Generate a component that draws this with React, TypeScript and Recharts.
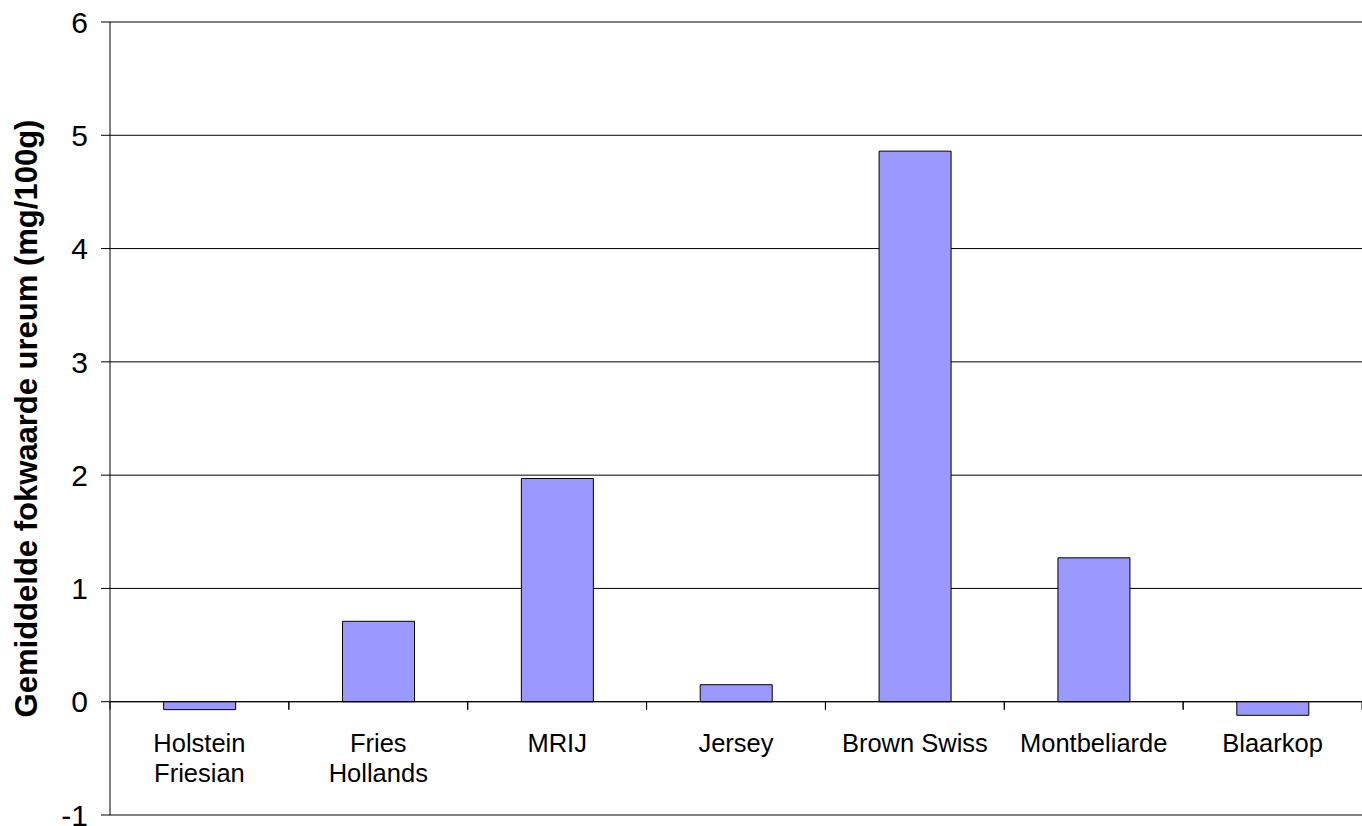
import React from 'react';
import { BarChart, Bar, XAxis, YAxis, CartesianGrid, ReferenceLine } from 'recharts';

const categories = ['Holstein\nFriesian', 'Fries\nHollands', 'MRIJ', 'Jersey', 'Brown Swiss', 'Montbeliarde', 'Blaarkop'];
const values = [-0.07, 0.71, 1.97, 0.15, 4.86, 1.27, -0.12];
const yTicks = [-1, 0, 1, 2, 3, 4, 5, 6];
const Y_MIN = -1;
const Y_MAX = 6;
const TITLE = 'Gemiddelde fokwaarde ureum (mg/100g)';

const data = categories.map((c, i) => ({ name: c, value: values[i] }));

const W = 1362;
const H = 826;
const X_AXIS_H = 11;
const M = { top: 22, right: 0, bottom: 0, left: 0 };
const Y_AXIS_W = 110;
const PLOT_W = W - M.left - M.right - Y_AXIS_W;
const PLOT_H = H - M.top - M.bottom - X_AXIS_H;
const ZERO_Y = M.top + (PLOT_H * (Y_MAX - 0)) / (Y_MAX - Y_MIN);
const BAND = PLOT_W / categories.length;
const FONT = '"Liberation Sans", Arial, Helvetica, sans-serif';

const renderCategoryTick = (props: any) => {
  const { x, payload } = props;
  const lines = String(payload.value).split('\n');
  const left = x - BAND / 2;
  const right = x + BAND / 2;
  return (
    <g key={`t-${payload.value}`}>
      <line x1={left} x2={left} y1={ZERO_Y} y2={ZERO_Y + 8} stroke="#000" strokeWidth={1} />
      <line x1={right} x2={right} y1={ZERO_Y} y2={ZERO_Y + 8} stroke="#000" strokeWidth={1} />
      {lines.map((l: string, i: number) => (
        <text
          key={i}
          x={x}
          y={ZERO_Y + 50 + i * 30}
          textAnchor="middle"
          fontFamily={FONT}
          fontSize={25.5}
          fill="#000"
        >
          {l}
        </text>
      ))}
    </g>
  );
};

const renderTitle = (props: any) => {
  const vb = props.viewBox || { x: 0, y: M.top, width: Y_AXIS_W, height: PLOT_H };
  const cx = vb.x + 37;
  const cy = vb.y + vb.height / 2;
  return (
    <text
      x={cx}
      y={cy}
      transform={`rotate(-90, ${cx}, ${cy})`}
      textAnchor="middle"
      fontFamily={FONT}
      fontWeight="bold"
      fontSize={31}
      fill="#000"
    >
      {TITLE}
    </text>
  );
};

export default function App() {
  return (
    <div style={{ position: 'absolute', left: 0, top: 0, width: W, height: H, background: '#fff' }}>
      <BarChart width={W} height={H} data={data} margin={M} barCategoryGap="30%">
        <CartesianGrid horizontal vertical={false} stroke="#000" strokeWidth={1} />
        <XAxis
          dataKey="name"
          height={X_AXIS_H}
          axisLine={false}
          tickLine={false}
          interval={0}
          tick={renderCategoryTick}
        />
        <YAxis
          width={Y_AXIS_W}
          domain={[Y_MIN, Y_MAX]}
          ticks={yTicks}
          interval={0}
          axisLine={{ stroke: '#000', strokeWidth: 1 }}
          tickLine={{ stroke: '#000', strokeWidth: 1 }}
          tickSize={9}
          tickMargin={13}
          tick={{ fontFamily: FONT, fontSize: 30, fill: '#000' }}
          label={{ content: renderTitle }}
        />
        <Bar dataKey="value" fill="#9999FF" stroke="#000" strokeWidth={1} isAnimationActive={false} />
        <ReferenceLine y={0} stroke="#000" strokeWidth={1} />
        <ReferenceLine y={Y_MAX} stroke="#808080" strokeWidth={2} />
        <ReferenceLine y={Y_MIN} stroke="#808080" strokeWidth={2} />
      </BarChart>
    </div>
  );
}
